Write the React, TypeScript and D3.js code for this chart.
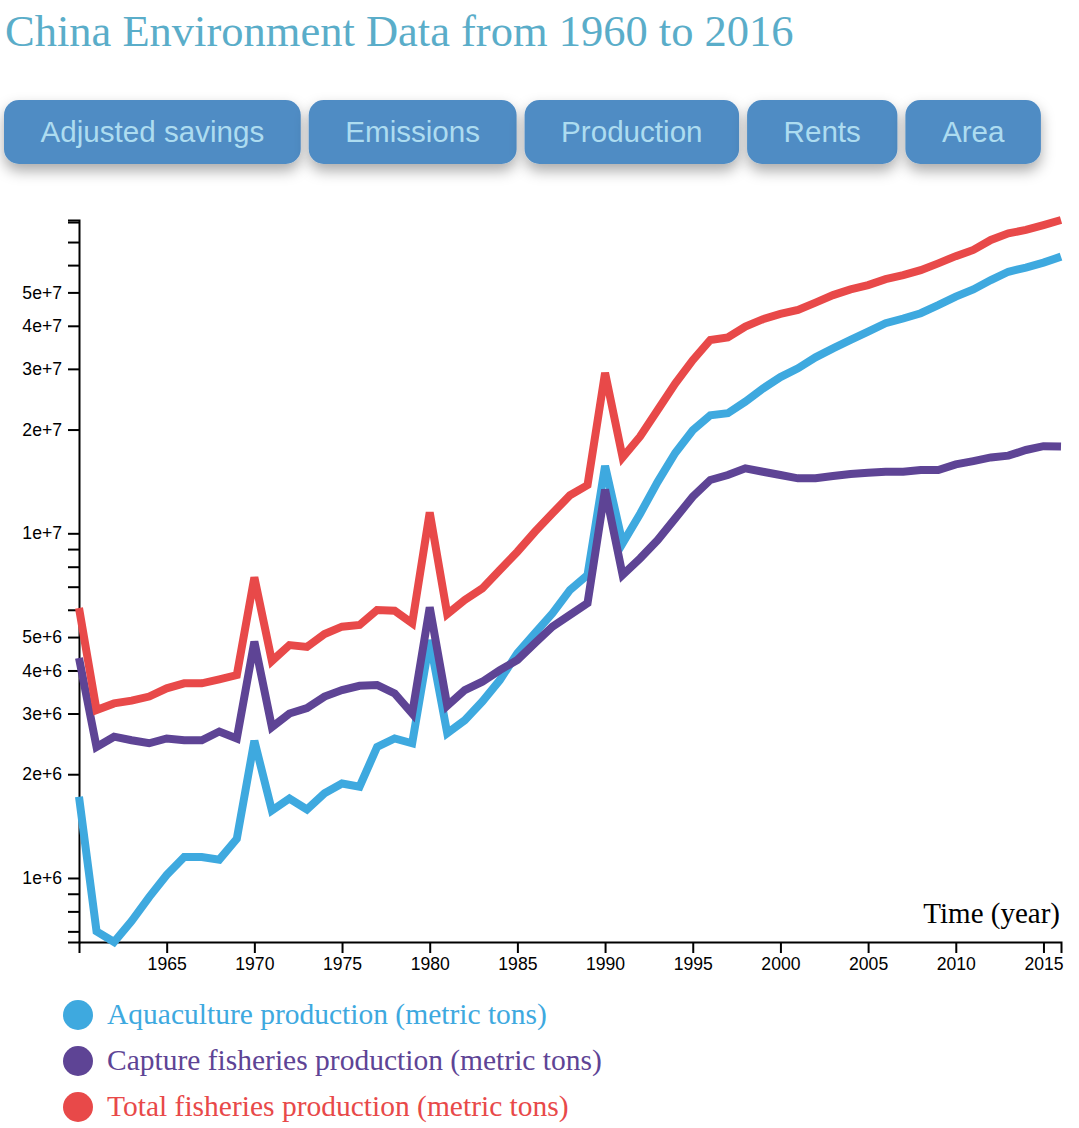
import React, { useEffect, useRef } from "react";
import * as d3 from "d3";

const years = [
  1960, 1961, 1962, 1963, 1964, 1965, 1966, 1967, 1968, 1969,
  1970, 1971, 1972, 1973, 1974, 1975, 1976, 1977, 1978, 1979,
  1980, 1981, 1982, 1983, 1984, 1985, 1986, 1987, 1988, 1989,
  1990, 1991, 1992, 1993, 1994, 1995, 1996, 1997, 1998, 1999,
  2000, 2001, 2002, 2003, 2004, 2005, 2006, 2007, 2008, 2009,
  2010, 2011, 2012, 2013, 2014, 2015, 2016,
];

// values in millions of metric tons
const aquaculture = [
  1.72, 0.70, 0.652, 0.75, 0.88, 1.02, 1.15, 1.15, 1.13, 1.30,
  2.50, 1.57, 1.70, 1.58, 1.76, 1.88, 1.84, 2.40, 2.54, 2.46,
  4.90, 2.63, 2.87, 3.25, 3.75, 4.49, 5.13, 5.86, 6.85, 7.57,
  15.7, 9.35, 11.4, 14.1, 17.1, 19.9, 22.0, 22.3, 24.1, 26.3,
  28.4, 30.1, 32.4, 34.4, 36.4, 38.5, 40.7, 42.0, 43.5, 45.9,
  48.6, 51.0, 54.3, 57.4, 59.0, 61.0, 63.5,
];

const capture = [
  4.35, 2.40, 2.57, 2.51, 2.46, 2.54, 2.51, 2.51, 2.66, 2.54,
  4.85, 2.74, 3.00, 3.11, 3.36, 3.51, 3.61, 3.63, 3.43, 3.00,
  6.10, 3.16, 3.51, 3.71, 4.01, 4.29, 4.80, 5.36, 5.80, 6.27,
  13.4, 7.57, 8.46, 9.56, 11.05, 12.77, 14.28, 14.76, 15.44, 15.09,
  14.76, 14.44, 14.44, 14.66, 14.86, 14.99, 15.09, 15.09, 15.26, 15.26,
  15.85, 16.2, 16.6, 16.8, 17.45, 17.9, 17.85,
];

const total = [
  6.07, 3.07, 3.21, 3.27, 3.36, 3.55, 3.67, 3.67, 3.77, 3.88,
  7.45, 4.26, 4.74, 4.68, 5.10, 5.36, 5.42, 5.99, 5.96, 5.48,
  11.5, 5.83, 6.41, 6.92, 7.83, 8.84, 10.1, 11.43, 12.9, 13.8,
  29.2, 16.6, 19.1, 22.8, 27.2, 31.8, 36.4, 37.0, 39.8, 41.8,
  43.3, 44.5, 46.7, 49.1, 51.0, 52.5, 54.6, 56.1, 58.0, 60.7,
  63.7, 66.4, 71.0, 74.2, 75.9, 78.4, 81.1,
];

const seriesNames = [
  "Aquaculture production (metric tons)",
  "Capture fisheries production (metric tons)",
  "Total fisheries production (metric tons)",
];
const seriesColors = ["#3ea9df", "#5e4495", "#e84949"];
const seriesValues = [aquaculture, capture, total];

const buttonLabels = ["Adjusted savings", "Emissions", "Production", "Rents", "Area"];
const xTickYears = [1965, 1970, 1975, 1980, 1985, 1990, 1995, 2000, 2005, 2010, 2015];

const titleText = "China Environment Data from 1960 to 2016";

const W = 1079;
const H = 1128;
const plot = { left: 79, right: 1061, top: 220, bottom: 942 };

const SERIF = "'Liberation Serif', 'Times New Roman', serif";
const SANS = "'Liberation Sans', Arial, sans-serif";

export default function App() {
  const xAxisRef = useRef<SVGGElement>(null);
  const yAxisRef = useRef<SVGGElement>(null);
  const btnRef = useRef<SVGGElement>(null);

  const data = seriesValues.map((vals) =>
    years.map((yr, i) => ({ year: yr, value: vals[i] * 1e6 }))
  );
  const allVals = data.flat().map((d) => d.value);

  const x = d3.scaleLinear().domain([1960, 2016]).range([plot.left, plot.right]);
  const y = d3
    .scaleLog()
    .domain(d3.extent(allVals) as [number, number])
    .range([plot.bottom, plot.top]);

  const line = d3
    .line<{ year: number; value: number }>()
    .x((d) => x(d.year))
    .y((d) => y(d.value));

  useEffect(() => {
    const fmt = d3.format(".0e");
    const yAxis = d3
      .axisLeft(y)
      .tickSize(11)
      .tickPadding(6)
      .tickFormat((d: any) => {
        const v = +d;
        const lead = Math.round(v / Math.pow(10, Math.floor(Math.log10(v) + 1e-9)));
        return lead <= 5 ? fmt(v) : "";
      });
    const xAxis = d3
      .axisBottom(x)
      .tickValues(xTickYears)
      .tickFormat(d3.format("d") as any)
      .tickSize(11)
      .tickPadding(5);
    const gy = d3.select(yAxisRef.current!);
    gy.call(yAxis as any);
    const gx = d3.select(xAxisRef.current!);
    gx.call(xAxis as any);
    [gx, gy].forEach((g) => {
      g.selectAll("path.domain").attr("stroke", "#000").attr("stroke-width", 2);
      g.selectAll(".tick line").attr("stroke", "#000").attr("stroke-width", 2);
      g.selectAll(".tick text")
        .attr("fill", "#000")
        .style("font-family", SANS)
        .style("font-size", "17.6px");
      g.attr("font-family", null).attr("font-size", null);
    });

    // buttons: lay out by measured text width
    const gb = d3.select(btnRef.current!);
    gb.selectAll("*").remove();
    let cx = 4;
    buttonLabels.forEach((label) => {
      const g = gb.append("g");
      const rect = g.append("rect");
      const t = g
        .append("text")
        .text(label)
        .attr("fill", "#addcf0")
        .style("font-family", SANS)
        .style("font-size", "29.6px")
        .attr("text-anchor", "middle");
      const tw = (t.node() as SVGTextElement).getComputedTextLength();
      const bw = tw + 73;
      rect
        .attr("x", cx)
        .attr("y", 100)
        .attr("width", bw)
        .attr("height", 64)
        .attr("rx", 15)
        .attr("fill", "#508cc4")
        .attr("filter", "url(#btnShadow)");
      t.attr("x", cx + bw / 2).attr("y", 142);
      cx += bw + 8;
    });
  }, []);

  return (
    <svg
      width={W}
      height={H}
      style={{ position: "absolute", left: 0, top: 0, background: "#fff" }}
    >
      <defs>
        <filter id="btnShadow" x="-20%" y="-30%" width="140%" height="190%">
          <feDropShadow dx="0" dy="7" stdDeviation="7" floodColor="#000" floodOpacity="0.33" />
        </filter>
      </defs>
      <text
        x={5}
        y={46}
        fill="#5aadc9"
        style={{ fontFamily: SERIF, fontSize: "44.5px" }}
      >
        {titleText}
      </text>
      <g ref={btnRef} />

      <g ref={yAxisRef} transform={`translate(${plot.left},0)`} />
      <g ref={xAxisRef} transform={`translate(0,${plot.bottom})`} />

      {data.map((d, i) => (
        <path
          key={i}
          d={line(d) || ""}
          fill="none"
          stroke={seriesColors[i]}
          strokeWidth={8}
        />
      ))}

      <text
        x={1060}
        y={923}
        textAnchor="end"
        fill="#000"
        style={{ fontFamily: SERIF, fontSize: "29px" }}
      >
        Time (year)
      </text>

      {seriesNames.map((name, i) => (
        <g key={name} transform={`translate(0,${1015 + i * 46})`}>
          <circle cx={78} cy={0} r={15} fill={seriesColors[i]} />
          <text
            x={107}
            y={9}
            fill={seriesColors[i]}
            style={{ fontFamily: SERIF, fontSize: "29.5px" }}
          >
            {name}
          </text>
        </g>
      ))}
    </svg>
  );
}
